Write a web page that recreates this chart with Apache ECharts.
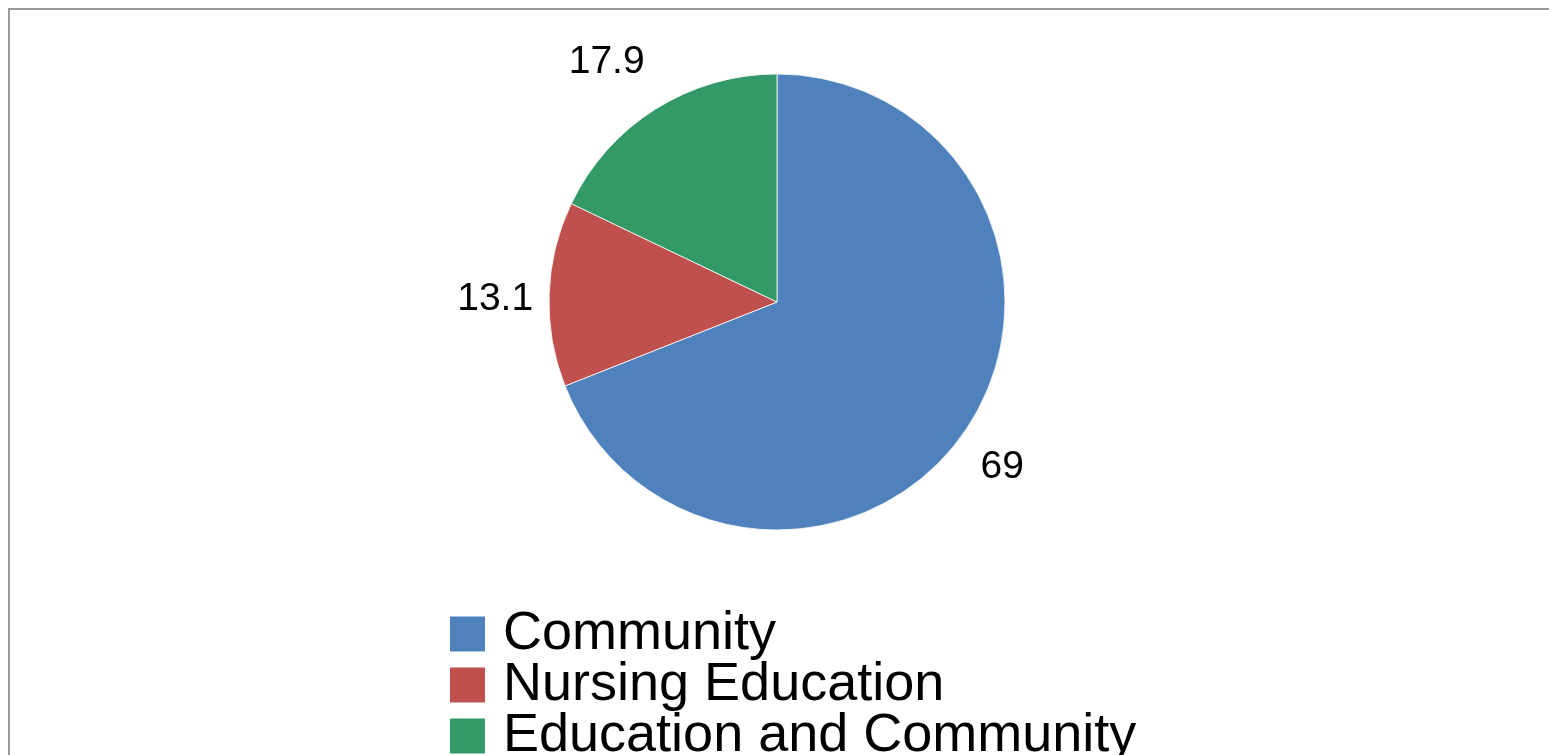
<!DOCTYPE html>
<html>
<head>
<meta charset="utf-8">
<title>Pie chart</title>
<script src="https://cdn.jsdelivr.net/npm/echarts@6/dist/echarts.min.js"></script>
<style>
  html, body { margin: 0; padding: 0; background: #fff; }
  #chart { width: 1549px; height: 755px; }
</style>
</head>
<body>
<div id="chart"></div>
<script>
// Share of responses by category (percent)
const categories = ['Community', 'Nursing Education', 'Education and Community'];
const values = [69, 13.1, 17.9];
const colors = ['#4F81BD', '#C0504D', '#339966'];

const FONT = '"Liberation Sans", Arial, sans-serif';

// small per-slice nudges [dx, dy] so each value label clears the rim neatly
const labelNudges = [[-8, 7], [0, 7], [-20, -1]];

const pieData = categories.map((name, i) => ({
  name: name,
  value: values[i],
  itemStyle: { color: colors[i] }
}));

const chart = echarts.init(document.getElementById('chart'), null, { renderer: 'canvas' });

chart.setOption({
  backgroundColor: '#ffffff',
  animation: false,
  graphic: [{
    type: 'rect',
    silent: true,
    shape: { x: 9, y: 9, width: 1700, height: 900 },
    style: { fill: 'none', stroke: '#999999', lineWidth: 2 }
  }],
  legend: {
    orient: 'vertical',
    left: 448,
    top: 607,
    height: 400,
    padding: 0,
    itemWidth: 37,
    itemHeight: 37,
    itemGap: -3,
    icon: 'rect',
    data: categories,
    textStyle: {
      fontFamily: FONT,
      fontSize: 54,
      color: '#000',
      padding: [0, 0, 0, 12]
    }
  },
  series: [
    {
      type: 'pie',
      center: [777, 302],
      radius: [0, 228],
      startAngle: 90,
      clockwise: true,
      avoidLabelOverlap: false,
      label: { show: false },
      labelLine: { show: false },
      itemStyle: { borderColor: '#ffffff', borderWidth: 0.8 },
      emphasis: { disabled: true },
      data: pieData
    },
    {
      // invisible outer ring that carries the value labels just outside the pie
      type: 'pie',
      silent: true,
      center: [777, 302],
      radius: [228, 330],
      startAngle: 90,
      clockwise: true,
      avoidLabelOverlap: false,
      itemStyle: { color: 'rgba(0,0,0,0)' },
      emphasis: { disabled: true },
      label: {
        show: true,
        position: 'inside',
        formatter: p => String(p.value),
        fontFamily: FONT,
        fontSize: 39,
        color: '#000'
      },
      labelLine: { show: false },
      labelLayout: p => ({ dx: labelNudges[p.dataIndex][0], dy: labelNudges[p.dataIndex][1] }),
      data: categories.map((name, i) => ({ name: name, value: values[i] }))
    }
  ]
});
</script>
</body>
</html>
